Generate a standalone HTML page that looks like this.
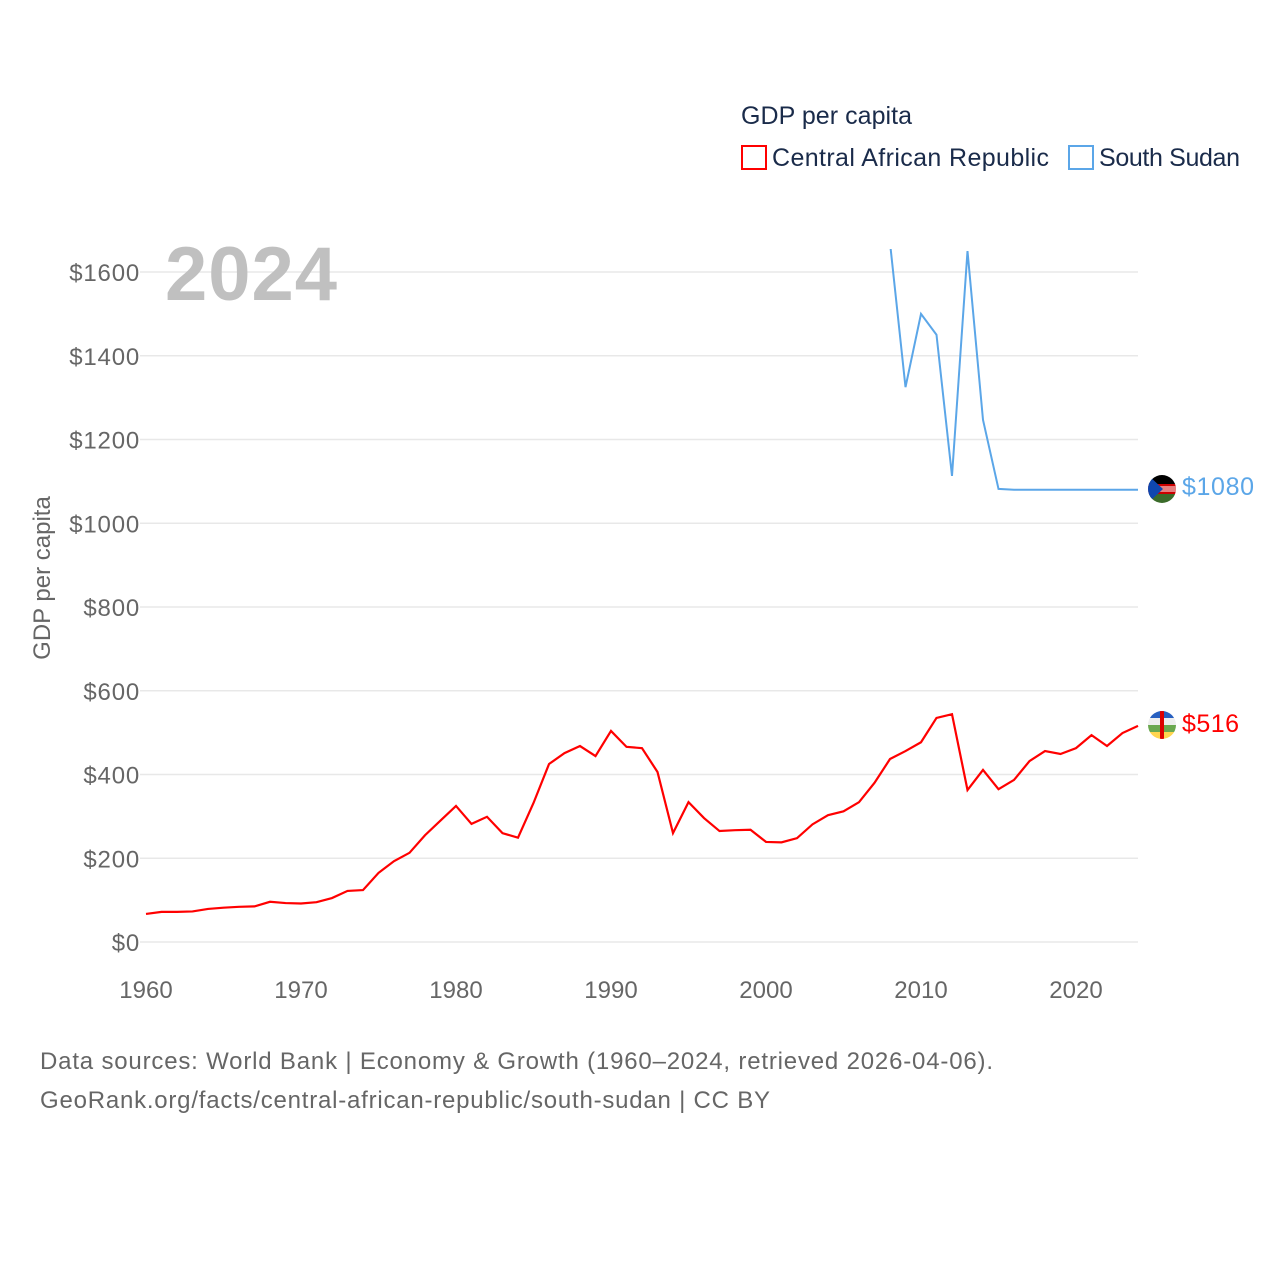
<!DOCTYPE html>
<html><head><meta charset="utf-8"><style>
body{margin:0;background:#fff;width:1280px;height:1280px;overflow:hidden;font-family:"Liberation Sans",sans-serif}
</style></head><body>
<svg width="1280" height="1280" style="position:absolute;left:0;top:0">
<defs><clipPath id="plot"><rect x="140" y="249" width="1000" height="700"/></clipPath>
<clipPath id="c1"><circle cx="1162" cy="489" r="14"/></clipPath>
<clipPath id="c2"><circle cx="1162" cy="725" r="14"/></clipPath></defs>
<g id="grid"></g>
<g id="yticks"></g>
<g id="xticks"></g>
<text x="165" y="300" font-size="76" font-weight="bold" fill="#c0c0c0" textLength="172">2024</text>
<text transform="translate(50,578) rotate(-90)" text-anchor="middle" font-size="24" fill="#666">GDP per capita</text>
<g clip-path="url(#plot)"><path id="ssd" fill="none" stroke="#5ba6e8" stroke-width="2"/>
<path id="caf" fill="none" stroke="#ff0000" stroke-width="2.2"/></g>
<g clip-path="url(#c1)"><rect x="1148" y="475" width="28" height="9" fill="#000"/><rect x="1148" y="484" width="28" height="10" fill="#c00"/><rect x="1148" y="486" width="28" height="6" fill="#fff" opacity=".5"/><rect x="1148" y="494" width="28" height="9" fill="#3a6b2a"/><polygon points="1148,475 1163,489 1148,503" fill="#0f47af"/></g>
<g clip-path="url(#c2)"><rect x="1148" y="711" width="28" height="7" fill="#2860c0"/><rect x="1148" y="718" width="28" height="7" fill="#eee"/><rect x="1148" y="725" width="28" height="7" fill="#6aa84f"/><rect x="1148" y="732" width="28" height="7" fill="#ffd54f"/><rect x="1160" y="711" width="4" height="28" fill="#d00"/></g>
<text x="1182" y="495" font-size="25" fill="#5ba6e8" textLength="72">$1080</text>
<text x="1182" y="732" font-size="25" fill="#ff0000" textLength="57">$516</text>
<text x="741" y="124" font-size="25" fill="#1a2b4a" textLength="171">GDP per capita</text>
<g><rect x="742" y="146" width="24" height="23" fill="none" stroke="#ff0000" stroke-width="2"/><text x="772" y="166" font-size="25" fill="#1a2b4a" textLength="277">Central African Republic</text></g>
<g><rect x="1069" y="146" width="24" height="23" fill="none" stroke="#5ba6e8" stroke-width="2"/><text x="1099" y="166" font-size="25" fill="#1a2b4a" textLength="141">South Sudan</text></g>
<text x="40" y="1069" font-size="24" fill="#666" textLength="953">Data sources: World Bank | Economy &amp; Growth (1960–2024, retrieved 2026-04-06).</text>
<text x="40" y="1108" font-size="24" fill="#666" textLength="730">GeoRank.org/facts/central-african-republic/south-sudan | CC BY</text>
</svg>
<script>
const years=[];for(let y=1960;y<=2024;y++)years.push(y);
const carValues=[67,72,72,73,79,82,84,85,96,93,92,95,105,122,124,165,193,213,255,290,325,282,299,260,249,332,425,451,468,444,504,466,463,406,260,334,296,265,267,268,239,238,248,281,303,312,334,380,437,456,477,535,544,363,411,365,387,432,456,449,463,494,468,499,516];
const ssdYears=[2008,2009,2010,2011,2012,2013,2014,2015,2016,2017,2018,2019,2020,2021,2022,2023,2024];
const ssdValues=[1670,1325,1500,1450,1113,1650,1247,1082,1080,1080,1080,1080,1080,1080,1080,1080,1080];
const yTicks=[0,200,400,600,800,1000,1200,1400,1600];
const xTicks=[1960,1970,1980,1990,2000,2010,2020];
const X=y=>146+(y-1960)*15.5, Y=v=>942-v*0.41875;
const ns="http://www.w3.org/2000/svg";
const grid=document.getElementById('grid'),yt=document.getElementById('yticks'),xt=document.getElementById('xticks');
yTicks.forEach(v=>{
 const l=document.createElementNS(ns,'line');
 
 
 l.setAttribute('x1',140);l.setAttribute('x2',1138);l.setAttribute('y1',Y(v));l.setAttribute('y2',Y(v));l.setAttribute('stroke','#e8e8e8');l.setAttribute('stroke-width','1.5');grid.appendChild(l);
 const t=document.createElementNS(ns,'text');
 
 
 t.setAttribute('x',140);t.setAttribute('y',Y(v)+9);t.setAttribute('text-anchor','end');t.setAttribute('font-size','24');t.setAttribute('letter-spacing','0.8');t.setAttribute('fill','#666');t.textContent='$'+v;yt.appendChild(t);
});
xTicks.forEach(v=>{
 const t=document.createElementNS(ns,'text');
 
 
 t.setAttribute('x',X(v));t.setAttribute('y',998);t.setAttribute('text-anchor','middle');t.setAttribute('font-size','24');t.setAttribute('fill','#666');t.textContent=v;xt.appendChild(t);
});
document.getElementById('caf').setAttribute('d',carValues.map((v,i)=>(i?'L':'M')+X(years[i])+','+Y(v)).join(''));
document.getElementById('ssd').setAttribute('d',ssdValues.map((v,i)=>(i?'L':'M')+X(ssdYears[i])+','+Y(v)).join(''));
</script>
</body></html>
